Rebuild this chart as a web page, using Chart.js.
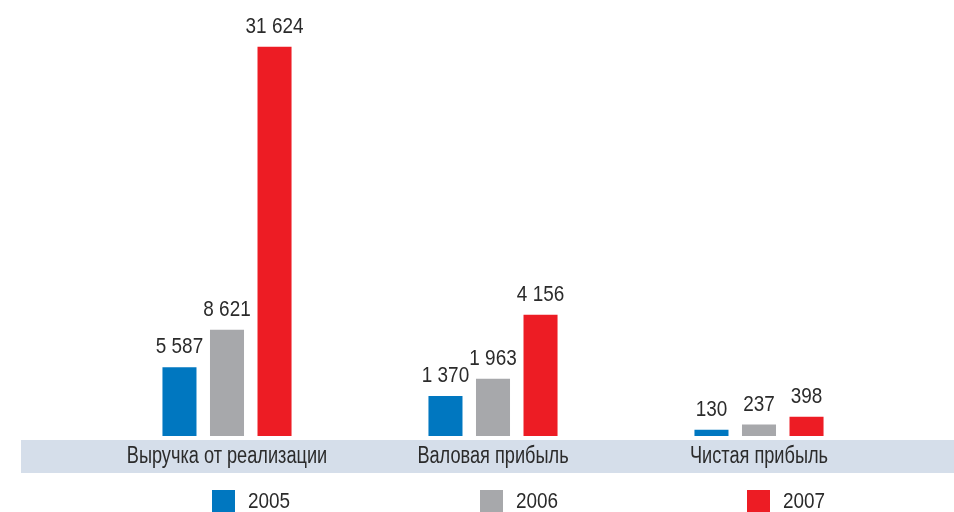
<!DOCTYPE html>
<html>
<head>
<meta charset="utf-8">
<script src="https://cdn.jsdelivr.net/npm/chart.js@4"></script>
<style>
  body { margin: 0; background: #fff; }
  #wrap { position: relative; width: 954px; height: 512px; }
  #legend { position: absolute; left: 0; top: 490px; width: 954px; height: 22px;
            font-family: "Liberation Sans", Arial, sans-serif;
            font-size: 22px; color: #2b2b2b; }
  .item { position: absolute; top: 0; height: 22px; line-height: 22px; }
  .sw { position: absolute; left: 0; top: 0; width: 23px; height: 22px; }
  .lbl { position: absolute; left: 36px; top: 0; white-space: nowrap;
         transform: scaleX(0.86); transform-origin: left center; }
</style>
</head>
<body>
<div id="wrap">
  <canvas id="myChart" width="954" height="512"></canvas>
  <div id="legend"></div>
</div>
<script>
// Financial results by year, three groups on their own scales

const categories = ['Выручка от реализации', 'Валовая прибыль', 'Чистая прибыль'];
const years = ['2005', '2006', '2007'];

const values2005 = [5587, 1370, 130];
const values2006 = [8621, 1963, 237];
const values2007 = [31624, 4156, 398];

const yearColors = ['#0077c0', '#a7a8ab', '#ed1c24'];

// each group has its own value axis
const groupMax = [34600, 14600, 8800];

const FONT = '"Liberation Sans", Arial, sans-serif';
const TEXT = '#2b2b2b';

const series = [values2005, values2006, values2007];

function fmt(v) {
    return String(v).replace(/\B(?=(\d{3})+(?!\d))/g, ' ');
}

// draw text squeezed horizontally around its centre (original uses a condensed face)
function narrowText(c, text, x, y, k) {
    c.save();
    c.translate(x, y);
    c.scale(k, 1);
    c.fillText(text, 0, 0);
    c.restore();
}

// one dataset per year and group, nulls elsewhere so each group keeps 3 bars
let datasets = [];
years.forEach((year, yi) => {
    categories.forEach((cat, gi) => {
        datasets.push({
            label: year,
            data: categories.map((c, i) => i === gi ? series[yi][i] : null),
            yAxisID: 'y' + gi,
            backgroundColor: yearColors[yi],
            borderWidth: 0,
            skipNull: true,
            categoryPercentage: 0.536,
            barPercentage: 0.716
        });
    });
});

let scales = {
    x: {
        grid: { display: false, drawTicks: false },
        border: { display: false },
        ticks: { display: false }
    }
};
groupMax.forEach((m, gi) => {
    scales['y' + gi] = { display: false, min: 0, max: m };
});

// grey-blue band with the category names
const bandPlugin = {
    id: 'band',
    beforeDraw(chart) {
        const c = chart.ctx;
        const bottom = chart.chartArea.bottom;
        c.save();
        c.fillStyle = '#d5deea';
        c.fillRect(21, bottom + 4, chart.width - 21, 33);
        c.fillStyle = TEXT;
        c.font = '23px ' + FONT;
        c.textAlign = 'center';
        c.textBaseline = 'alphabetic';
        const xs = chart.scales.x;
        chart.data.labels.forEach((lab, i) => {
            narrowText(c, lab, xs.getPixelForTick(i), bottom + 27, 0.79);
        });
        c.restore();
    }
};

// value labels above the bars
const valueLabels = {
    id: 'valueLabels',
    afterDatasetsDraw(chart) {
        const c = chart.ctx;
        c.save();
        c.fillStyle = TEXT;
        c.font = '22px ' + FONT;
        c.textAlign = 'center';
        c.textBaseline = 'alphabetic';
        chart.data.datasets.forEach((ds, di) => {
            const meta = chart.getDatasetMeta(di);
            meta.data.forEach((bar, i) => {
                const v = ds.data[i];
                if (v === null) return;
                narrowText(c, fmt(v), bar.x, bar.y - 14, 0.86);
            });
        });
        c.restore();
    }
};

const ctx = document.getElementById('myChart');

const chart = new Chart(ctx, {
    type: 'bar',
    data: {
        labels: categories,
        datasets: datasets
    },
    options: {
        responsive: false,
        animation: false,
        layout: { padding: { left: 94, right: 62, top: 10, bottom: 76 } },
        plugins: {
            legend: { display: false },
            tooltip: { enabled: false }
        },
        scales: scales
    },
    plugins: [bandPlugin, valueLabels]
});

// legend
const legend = document.getElementById('legend');
const legendX = [212, 480, 747];
years.forEach((year, yi) => {
    const item = document.createElement('div');
    item.className = 'item';
    item.style.left = legendX[yi] + 'px';
    item.innerHTML = '<span class="sw" style="background:' + yearColors[yi] + '"></span>' +
        '<span class="lbl">' + year + '</span>';
    legend.appendChild(item);
});
</script>
</body>
</html>
